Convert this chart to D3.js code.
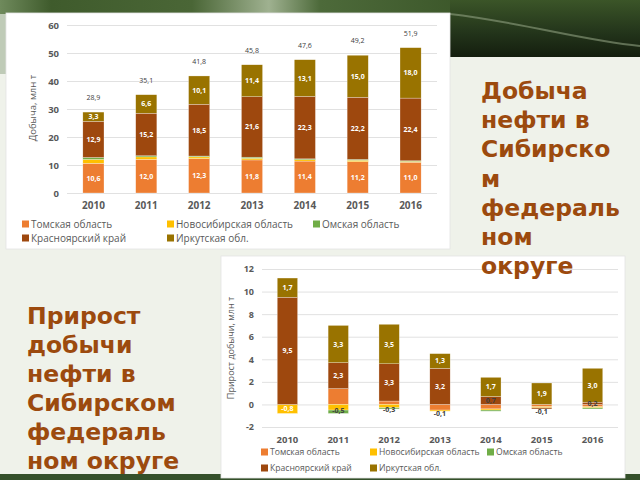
<!DOCTYPE html>
<html><head><meta charset="utf-8">
<script src="https://cdn.jsdelivr.net/npm/d3@7"></script>
<style>body{margin:0;background:#eff2ea;} svg{display:block}</style>
</head><body><svg id="c" width="640" height="480"></svg>
<script>
// ---------- DATA ----------
const years = ["2010","2011","2012","2013","2014","2015","2016"];
const seriesNames = ["Томская область","Новосибирская область","Омская область","Красноярский край","Иркутская обл."];
const seriesColors = ["#ED7D31","#FFC000","#70AD47","#9E480E","#997300"];

// Production, mln t
const tomsk   = [10.6, 12.0, 12.3, 11.8, 11.4, 11.2, 11.0];
const novosib = [1.4, 0.9, 0.6, 0.6, 0.5, 0.5, 0.3];
const omsk    = [0.7, 0.4, 0.3, 0.4, 0.3, 0.3, 0.2];
const krasn   = [12.9, 15.2, 18.5, 21.6, 22.3, 22.2, 22.4];
const irkut   = [3.3, 6.6, 10.1, 11.4, 13.1, 15.0, 18.0];
const totals  = [28.9, 35.1, 41.8, 45.8, 47.6, 49.2, 51.9];
const prodTicks = [0, 10, 20, 30, 40, 50, 60];

// Growth of production, mln t
const dTomsk   = [0, 1.4, 0.3, -0.5, -0.4, -0.2, -0.2];
const dNovosib = [-0.8, -0.5, -0.3, -0.1, -0.1, -0.1, -0.1];
const dOmsk    = [0, -0.3, -0.1, 0, -0.1, 0, -0.1];
const dKrasn   = [9.5, 2.3, 3.3, 3.2, 0.7, -0.1, 0.2];
const dIrkut   = [1.7, 3.3, 3.5, 1.3, 1.7, 1.9, 3.0];
const growthTicks = [-2, 0, 2, 4, 6, 8, 10, 12];

const titleTop = ["Добыча","нефти в","Сибирско","м","федераль","ном","округе"];
const titleBottom = ["Прирост","добычи","нефти в","Сибирском","федераль","ном округе"];

// ---------- DRAWING ----------
const svg = d3.select("#c");
const defs = svg.append("defs");
const fmt = v => d3.format(".1f")(v).replace("−","-").replace(".",",");

// slide background
svg.append("rect").attr("width",640).attr("height",480).attr("fill","#eff2ea");
const g1 = defs.append("linearGradient").attr("id","band").attr("x1",0).attr("x2",1);
[[0,"#6f8a5c"],[0.08,"#3f5b2c"],[0.3,"#4a6636"],[0.42,"#9fb190"],[0.5,"#4d6a3a"],[0.75,"#3a5528"],[1,"#2a3f1c"]]
  .forEach(([o,c])=>g1.append("stop").attr("offset",o).attr("stop-color",c));
svg.append("rect").attr("x",0).attr("y",0).attr("width",640).attr("height",14).attr("fill","url(#band)");
const g2 = defs.append("linearGradient").attr("id","band2").attr("x1",0).attr("x2",0).attr("y1",0).attr("y2",1);
[[0,"#3b5528"],[0.6,"#22331a"],[1,"#141e0e"]].forEach(([o,c])=>g2.append("stop").attr("offset",o).attr("stop-color",c));
svg.append("rect").attr("x",450).attr("y",0).attr("width",190).attr("height",57).attr("fill","url(#band2)");
svg.append("path").attr("d","M450,14 C520,22 580,40 640,46").attr("fill","none").attr("stroke","#8fa080").attr("stroke-width",2).attr("opacity",0.6);
svg.append("rect").attr("x",0).attr("y",14).attr("width",6).attr("height",60).attr("fill","#9fb095").attr("opacity",0.6);
svg.append("rect").attr("x",0).attr("y",474).attr("width",640).attr("height",6).attr("fill","#34502a");

function drawChart(c) {
  const g = svg.append("g");
  g.append("rect").attr("x",c.panel[0]).attr("y",c.panel[1]).attr("width",c.panel[2]).attr("height",c.panel[3])
    .attr("fill","#ffffff").attr("stroke","#e4e4e4").attr("stroke-width",0.8);
  const x = d3.scaleBand().domain(years).range(c.xRange).paddingInner(0.6).paddingOuter(0.3);
  const y = d3.scaleLinear().domain(c.yDomain).range(c.yRange);
  const ax = d3.axisLeft(y).tickValues(c.ticks).tickSize(-(c.xRange[1]-c.xRange[0])).tickPadding(8).tickFormat(d=>d);
  const ag = g.append("g").attr("transform",`translate(${c.xRange[0]},0)`).call(ax);
  ag.select(".domain").remove();
  ag.selectAll(".tick line").attr("stroke","#d9d9d9").attr("stroke-width",0.8);
  ag.selectAll(".tick text").attr("fill","#595959").attr("font-family","Open Sans").attr("font-size",c.tickFs).attr("font-weight","bold");
  const xa = d3.axisBottom(x).tickSize(0).tickPadding(c.yearPad);
  const xg = g.append("g").attr("transform",`translate(0,${c.yRange[0]})`).call(xa);
  xg.select(".domain").remove();
  xg.selectAll(".tick text").attr("fill","#595959").attr("font-family","Open Sans").attr("font-size",c.yearFs).attr("font-weight","bold");
  g.append("text").attr("transform",`translate(${c.titleX},${c.titleY}) rotate(-90)`).attr("text-anchor","middle")
    .attr("font-family","Open Sans").attr("font-size",c.tickFs).attr("fill","#595959").text(c.yTitle);

  const keys = seriesNames;
  const rows = years.map((yr,i)=>{ const r={year:yr}; keys.forEach((k,j)=>r[k]=c.data[j][i]); return r; });
  const stack = d3.stack().keys(keys).offset(d3.stackOffsetDiverging)(rows);
  stack.forEach((s,j)=>{
    const sg = g.append("g").attr("fill",seriesColors[j]);
    sg.selectAll("rect").data(s).join("rect")
      .attr("x",d=>x(d.data.year)).attr("width",x.bandwidth())
      .attr("y",d=>y(Math.max(d[0],d[1]))).attr("height",d=>Math.abs(y(d[0])-y(d[1])))
      .attr("stroke","#ffffff").attr("stroke-width",0.4).attr("stroke-opacity",0.7);
  });
  stack.forEach((s,j)=>{
    s.forEach((d,i)=>{
      if (!c.labelOn[j] || !c.labelOn[j][i]) return;
      const v = c.data[j][i];
      const h = Math.abs(y(d[0])-y(d[1]));
      const small = h < 9;
      g.append("text").attr("x",x(d.data.year)+x.bandwidth()/2).attr("y",(y(d[0])+y(d[1]))/2 + (small && v<0 ? 3 : 0))
        .attr("dy","0.35em").attr("text-anchor","middle")
        .attr("font-family","Open Sans").attr("font-size",7).attr("font-weight","bold")
        .attr("fill", small ? "#404040" : "#ffffff").text(fmt(v));
    });
  });
  if (c.totals) {
    g.selectAll(".tot").data(c.totals).join("text")
      .attr("x",(d,i)=>x(years[i])+x.bandwidth()/2).attr("y",(d,i)=>y(d)-12)
      .attr("text-anchor","middle").attr("font-family","Open Sans").attr("font-size",7)
      .attr("fill","#404040").text(d=>fmt(d));
  }
  // legend
  keys.forEach((k,j)=>{
    const [lx,ly] = c.legend[j];
    g.append("rect").attr("x",lx).attr("y",ly-3.5).attr("width",7).attr("height",7).attr("fill",seriesColors[j]);
    g.append("text").attr("x",lx+9).attr("y",ly).attr("dy","0.35em").attr("font-family","Open Sans")
      .attr("font-size",c.legFs).attr("fill","#595959").text(k);
  });
}

const all = (arr)=>arr.map(()=>true);
const none = (arr)=>arr.map(()=>false);

drawChart({
  panel:[6,13,444,236], xRange:[67,437], yDomain:[0,60], yRange:[193,25], ticks:prodTicks, yearPad:9,
  tickFs:9.5, yearFs:10, legFs:10,
  titleX:36, titleY:108, yTitle:"Добыча, млн т",
  data:[tomsk,novosib,omsk,krasn,irkut],
  labelOn:[all(tomsk),none(novosib),none(omsk),all(krasn),all(irkut)],
  totals:totals,
  legend:[[22,224],[167,224],[313,224],[22,238],[167,238]]
});

drawChart({
  panel:[221,256,404,222], xRange:[262,618], yDomain:[-2,12], yRange:[427,269], ticks:growthTicks, yearPad:9,
  tickFs:9, yearFs:9.5, legFs:8.6,
  titleX:234, titleY:348, yTitle:"Прирост добычи, млн т",
  data:[dTomsk,dNovosib,dOmsk,dKrasn,dIrkut],
  labelOn:[none(dTomsk),[true,true,true,true,false,false,false],none(dOmsk),all(dKrasn),all(dIrkut)],
  totals:null,
  legend:[[261,452],[370,452],[487,452],[261,468],[370,468]]
});

// slide titles
const tcol = "#9C4A0E";
const t1 = svg.append("text").attr("font-family","DejaVu Sans").attr("font-weight","bold").attr("font-size",23.5).attr("fill",tcol);
titleTop.forEach((s,i)=>t1.append("tspan").attr("x",481).attr("y",99+i*29.2).text(s));
const t2 = svg.append("text").attr("font-family","DejaVu Sans").attr("font-weight","bold").attr("font-size",23.5).attr("fill",tcol);
titleBottom.forEach((s,i)=>t2.append("tspan").attr("x",27).attr("y",324+i*29).text(s));
</script></body></html>
